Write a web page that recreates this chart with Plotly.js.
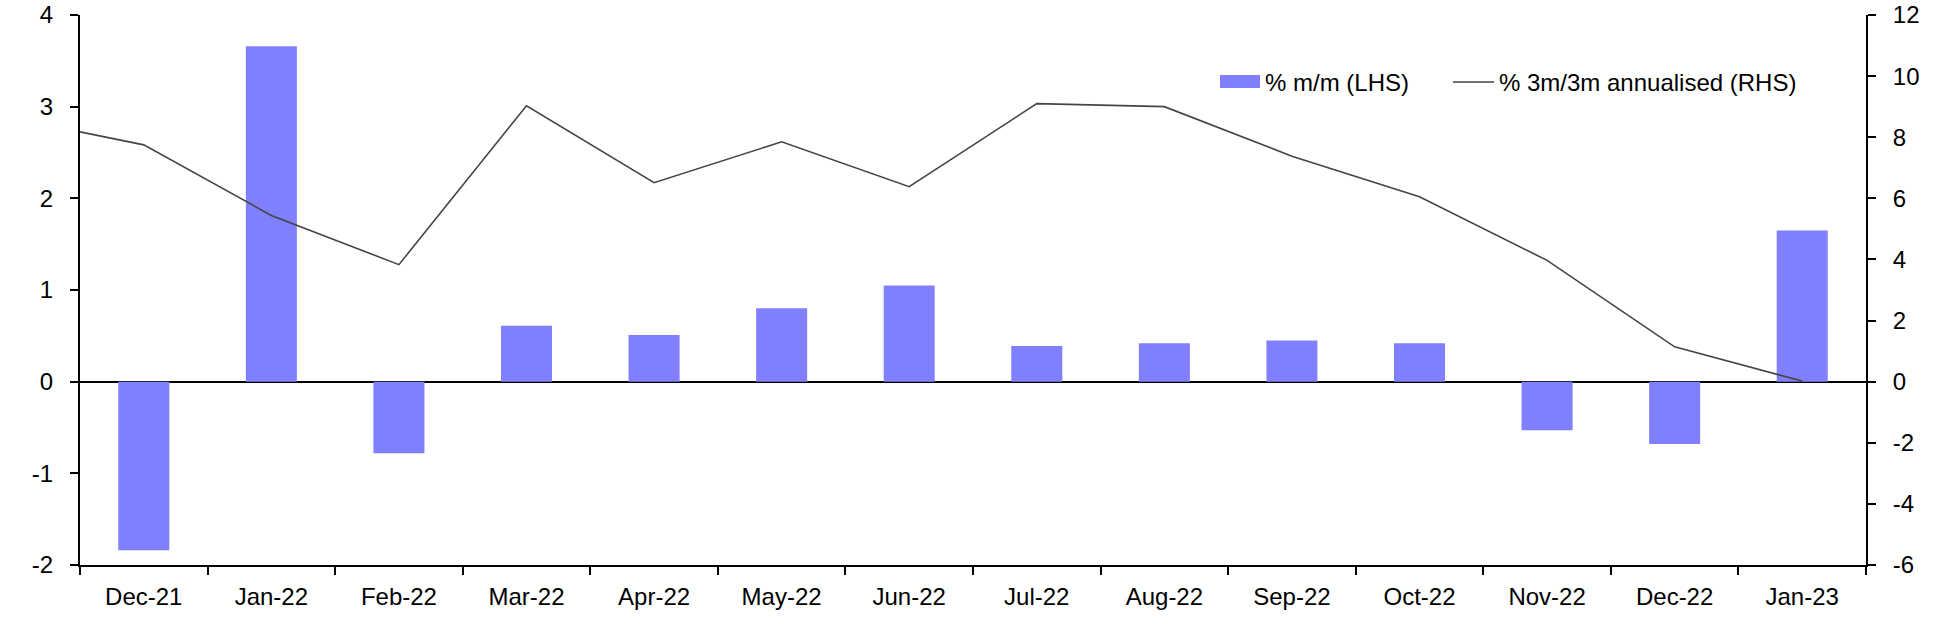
<!DOCTYPE html>
<html>
<head>
<meta charset="utf-8">
<script src="https://cdn.plot.ly/plotly-3.0.1.min.js"></script>
<style>
  html, body { margin: 0; padding: 0; background: #fff; }
  #chart { width: 1938px; height: 640px; }
</style>
</head>
<body>
<div id="chart"></div>
<script>
// month labels on the axis
var months = ['Dec-21', 'Jan-22', 'Feb-22', 'Mar-22', 'Apr-22', 'May-22', 'Jun-22',
              'Jul-22', 'Aug-22', 'Sep-22', 'Oct-22', 'Nov-22', 'Dec-22', 'Jan-23'];

// % m/m (LHS)
var mom = [-1.84, 3.66, -0.78, 0.61, 0.51, 0.80, 1.05,
           0.39, 0.42, 0.45, 0.42, -0.53, -0.68, 1.65];

// % 3m/3m annualised (RHS), first value is Nov-21 (just off the left edge)
var lineMonths = ['Nov-21'].concat(months);
var ann3m = [8.6, 7.75, 5.44, 3.83, 9.03, 6.51, 7.85, 6.38,
             9.10, 9.00, 7.38, 6.05, 3.97, 1.14, 0.02];

var yLeftTicks = [-2, -1, 0, 1, 2, 3, 4];
var yRightTicks = [-6, -4, -2, 0, 2, 4, 6, 8, 10, 12];

var seriesNames = ['% m/m (LHS)', '% 3m/3m annualised (RHS)'];

var el = document.getElementById('chart');

var W = 1938, H = 640;
var margin = { l: 80, r: 72, t: 15, b: 75 };
var plotW = W - margin.l - margin.r;
var plotH = H - margin.t - margin.b;
// pixel -> paper helpers for the hand made legend
function px(x) { return (x - margin.l) / plotW; }
function py(y) { return (H - margin.b - y) / plotH; }

var barTrace = {
  x: months.map((m, i) => i),
  y: mom,
  type: 'bar',
  name: seriesNames[0],
  marker: { color: '#8080ff' },
  hoverinfo: 'skip'
};

var lineTrace = {
  x: lineMonths.map((m, i) => i - 1),
  y: ann3m,
  type: 'scatter',
  mode: 'lines',
  name: seriesNames[1],
  yaxis: 'y2',
  line: { color: '#444444', width: 1.6 },
  hoverinfo: 'skip'
};

var font = { family: '"Liberation Sans", Arial, sans-serif', size: 24, color: '#000' };

var layout = {
  width: W,
  height: H,
  margin: margin,
  paper_bgcolor: '#fff',
  plot_bgcolor: '#fff',
  font: font,
  showlegend: false,
  bargap: 0.6,
  xaxis: {
    range: [-0.5, months.length - 0.5],
    tickmode: 'array',
    tickvals: months.map((m, i) => i),
    ticktext: months,
    ticks: '',
    ticklabelstandoff: 9,
    showgrid: false,
    zeroline: false,
    showline: true,
    linecolor: '#000',
    linewidth: 2,
    minor: {
      tickmode: 'linear',
      tick0: -0.5,
      dtick: 1,
      ticks: 'outside',
      ticklen: 8,
      tickwidth: 2,
      tickcolor: '#000',
      showgrid: false
    },
    fixedrange: true
  },
  yaxis: {
    range: [-2, 4],
    tickmode: 'array',
    tickvals: yLeftTicks,
    ticktext: yLeftTicks.map(String),
    ticks: 'outside',
    ticklen: 8,
    tickwidth: 2,
    tickcolor: '#000',
    ticklabelstandoff: 12,
    showgrid: false,
    showline: true,
    linecolor: '#000',
    linewidth: 2,
    zeroline: true,
    zerolinecolor: '#000',
    zerolinewidth: 2,
    fixedrange: true
  },
  yaxis2: {
    range: [-6, 12],
    overlaying: 'y',
    side: 'right',
    tickmode: 'array',
    tickvals: yRightTicks,
    ticktext: yRightTicks.map(String),
    ticks: 'outside',
    ticklen: 8,
    tickwidth: 2,
    tickcolor: '#000',
    ticklabelstandoff: 12,
    showgrid: false,
    showline: true,
    linecolor: '#000',
    linewidth: 2,
    zeroline: false,
    fixedrange: true
  },
  shapes: [
    { type: 'rect', xref: 'paper', yref: 'paper',
      x0: px(1220), x1: px(1260), y0: py(88), y1: py(75),
      fillcolor: '#8080ff', line: { width: 0 } },
    { type: 'line', xref: 'paper', yref: 'paper',
      x0: px(1453), x1: px(1494), y0: py(82), y1: py(82),
      line: { color: '#444444', width: 1.6 } }
  ],
  annotations: [
    { xref: 'paper', yref: 'paper', x: px(1263), y: py(82), xanchor: 'left', yanchor: 'middle',
      text: seriesNames[0], showarrow: false, font: font },
    { xref: 'paper', yref: 'paper', x: px(1497), y: py(82), xanchor: 'left', yanchor: 'middle',
      text: seriesNames[1], showarrow: false, font: font }
  ]
};

var config = { displayModeBar: false, staticPlot: true };

Plotly.newPlot(el, [barTrace, lineTrace], layout, config);
</script>
</body>
</html>
